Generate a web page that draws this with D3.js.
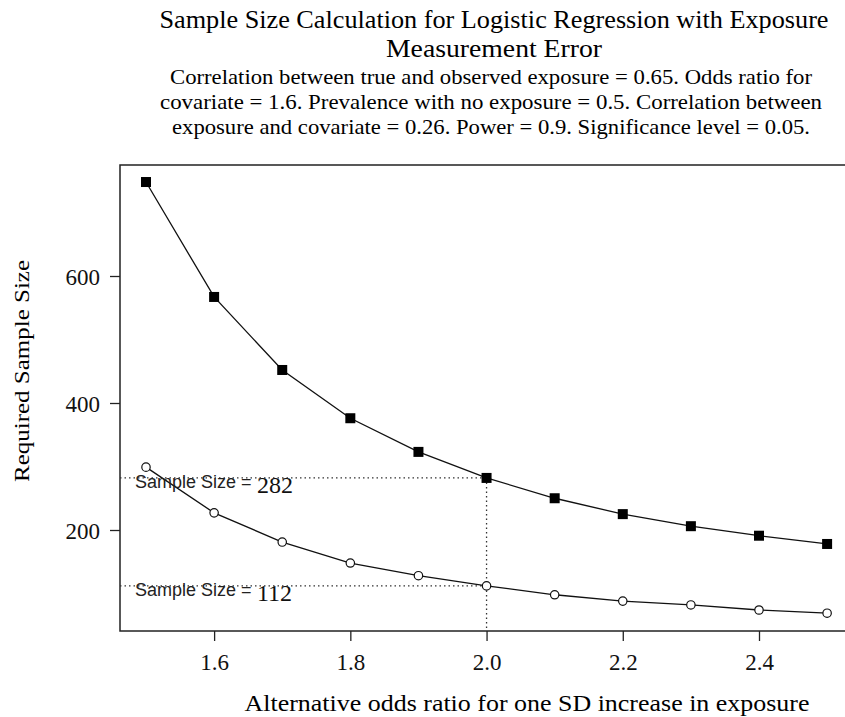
<!DOCTYPE html>
<html>
<head>
<meta charset="utf-8">
<script src="https://cdn.jsdelivr.net/npm/d3@7"></script>
<style>
  body { margin: 0; background: #fff; }
  svg { display: block; }
</style>
</head>
<body>
<svg id="chart" width="845" height="717"></svg>
<script>
// odds ratios on the x axis
const oddsRatios = [1.5, 1.6, 1.7, 1.8, 1.9, 2.0, 2.1, 2.2, 2.3, 2.4, 2.5];
// required sample size, with measurement error (squares) and without (circles)
const sizeWithError = [748, 567, 452, 376, 323, 282, 250, 225, 206, 191, 178];
const sizeNoError = [299, 227, 181, 148, 128, 112, 98, 88, 82, 74, 69];
const xTicks = [1.6, 1.8, 2.0, 2.2, 2.4];
const yTicks = [200, 400, 600];
const markedOr = 2.0;
const markedSizes = [282, 112];

const titleLines = ["Sample Size Calculation for Logistic Regression with Exposure", "Measurement Error"];
const subLines = [
  "Correlation between true and observed exposure = 0.65. Odds ratio for",
  "covariate = 1.6. Prevalence with no exposure = 0.5. Correlation between",
  "exposure and covariate = 0.26. Power = 0.9. Significance level = 0.05."
];

const svg = d3.select("#chart");
const serif = "'Liberation Serif', 'Times New Roman', serif";
const sans = "'Liberation Sans', Arial, sans-serif";

const box = { left: 120, top: 165, right: 900, bottom: 631 };

const x = d3.scaleLinear()
    .domain([1.5, 2.4])
    .range([146, 759]);
const y = d3.scaleLinear()
    .domain([200, 600])
    .range([530, 276]);

// title block (widths taken from the original rendering)
const titleLen = [669, 216];
svg.append("g").selectAll("text")
    .data(titleLines)
    .enter().append("text")
    .attr("x", 494)
    .attr("y", (d, i) => 28 + i * 29)
    .attr("text-anchor", "middle")
    .attr("textLength", (d, i) => titleLen[i])
    .attr("lengthAdjust", "spacingAndGlyphs")
    .style("font-family", serif)
    .style("font-size", "25px")
    .text(d => d);

const subLen = [642, 662, 638];
svg.append("g").selectAll("text")
    .data(subLines)
    .enter().append("text")
    .attr("x", 491)
    .attr("y", (d, i) => 84 + i * 25)
    .attr("text-anchor", "middle")
    .attr("textLength", (d, i) => subLen[i])
    .attr("lengthAdjust", "spacingAndGlyphs")
    .style("font-family", serif)
    .style("font-size", "21px")
    .text(d => d);

// plot frame
svg.append("rect")
    .attr("x", box.left)
    .attr("y", box.top)
    .attr("width", box.right - box.left)
    .attr("height", box.bottom - box.top)
    .attr("fill", "none")
    .attr("stroke", "#222")
    .attr("stroke-width", 1.5);

// axes
const xAxis = svg.append("g")
    .attr("transform", `translate(0,${box.bottom})`)
    .call(d3.axisBottom(x).tickValues(xTicks).tickFormat(d3.format(".1f")).tickSize(10).tickPadding(13));
const yAxis = svg.append("g")
    .attr("transform", `translate(${box.left},0)`)
    .call(d3.axisLeft(y).tickValues(yTicks).tickSize(10).tickPadding(10));

[xAxis, yAxis].forEach(a => {
    a.select(".domain").remove();
    a.selectAll("line").attr("stroke", "#222").attr("stroke-width", 1.3);
    a.selectAll("text")
        .style("font-family", serif)
        .style("font-size", "23px")
        .attr("fill", "#111");
});
yAxis.selectAll("text").attr("dy", "0.35em");

svg.append("text")
    .attr("x", 527)
    .attr("y", 711)
    .attr("text-anchor", "middle")
    .attr("textLength", 565)
    .attr("lengthAdjust", "spacingAndGlyphs")
    .style("font-family", serif)
    .style("font-size", "23px")
    .text("Alternative odds ratio for one SD increase in exposure");

svg.append("text")
    .attr("transform", "translate(29,371) rotate(-90)")
    .attr("text-anchor", "middle")
    .attr("textLength", 222)
    .attr("lengthAdjust", "spacingAndGlyphs")
    .style("font-family", serif)
    .style("font-size", "22px")
    .text("Required Sample Size");

// reference dotted lines at OR = 2.0
const refG = svg.append("g")
    .attr("stroke", "#333")
    .attr("stroke-width", 1.3)
    .attr("stroke-dasharray", "1.5,3");
markedSizes.forEach(s => {
    refG.append("line")
        .attr("x1", box.left).attr("x2", x(markedOr))
        .attr("y1", y(s)).attr("y2", y(s));
});
refG.append("line")
    .attr("x1", x(markedOr)).attr("x2", x(markedOr))
    .attr("y1", y(markedSizes[0])).attr("y2", box.bottom);

// curves
const line = d3.line()
    .x((d, i) => x(oddsRatios[i]))
    .y(d => y(d));

[sizeWithError, sizeNoError].forEach(series => {
    svg.append("path")
        .datum(series)
        .attr("d", line)
        .attr("fill", "none")
        .attr("stroke", "#111")
        .attr("stroke-width", 1.3);
});

svg.append("g").selectAll("rect")
    .data(sizeWithError)
    .enter().append("rect")
    .attr("x", (d, i) => x(oddsRatios[i]) - 5)
    .attr("y", d => y(d) - 5)
    .attr("width", 10)
    .attr("height", 10)
    .attr("fill", "#000");

svg.append("g").selectAll("circle")
    .data(sizeNoError)
    .enter().append("circle")
    .attr("cx", (d, i) => x(oddsRatios[i]))
    .attr("cy", d => y(d))
    .attr("r", 4.2)
    .attr("fill", "#fff")
    .attr("stroke", "#111")
    .attr("stroke-width", 1.2);

// sample size labels
markedSizes.forEach(s => {
    svg.append("text")
        .attr("x", 135)
        .attr("y", y(s) + 10)
        .style("font-family", sans)
        .style("font-size", "18px")
        .attr("fill", "#222")
        .text("Sample Size = ");
    svg.append("text")
        .attr("x", 257)
        .attr("y", y(s) + 15)
        .style("font-family", serif)
        .style("font-size", "24px")
        .attr("fill", "#111")
        .text(s);
});
</script>
</body>
</html>
